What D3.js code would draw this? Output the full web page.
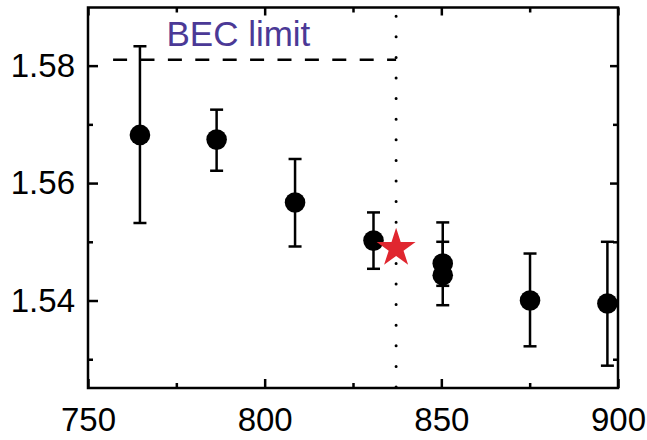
<!DOCTYPE html>
<html>
<head>
<meta charset="utf-8">
<script src="https://cdn.jsdelivr.net/npm/d3@7"></script>
<style>
  body { margin: 0; background: #fff; }
  svg text { font-family: "Liberation Sans", Arial, sans-serif; }
</style>
</head>
<body>
<div id="chart"></div>
<script>
// measured points (x, y, error bar low/high)
const xValues  = [764.7, 786.4, 808.6, 830.8, 850.4, 850.4, 875.1, 897.0];
const yValues  = [1.5682, 1.5674, 1.5567, 1.5502, 1.5463, 1.5443, 1.5400, 1.5395];
const errLow   = [1.5532, 1.5621, 1.5492, 1.5454, 1.5425, 1.5392, 1.5322, 1.5289];
const errHigh  = [1.5833, 1.5725, 1.5641, 1.5550, 1.5533, 1.5500, 1.5480, 1.5500];

// red star marker
const starPoint = [837.2, 1.5489];

// BEC limit reference lines
const becValue = 1.5810;
const becX = 837.2;
const becLabel = "BEC limit";

const xMajor = [750, 800, 850, 900];
const xMinor = [775, 825, 875];
const yMajor = [1.54, 1.56, 1.58];
const yMinor = [1.53, 1.55, 1.57];

const margin = {top: 7.5, right: 29, bottom: 52, left: 88};
const W = 647, H = 440;
const width = W - margin.left - margin.right;
const height = H - margin.top - margin.bottom;

const svg = d3.select("#chart").append("svg")
  .attr("width", W).attr("height", H)
  .append("g")
  .attr("transform", "translate(" + margin.left + "," + margin.top + ")");

const x = d3.scaleLinear().domain([750, 900]).range([0, width]);
const y = d3.scaleLinear().domain([1.5251, 1.5899]).range([height, 0]);

const fmt = d3.format(".2f");

// axes: major ticks with labels, minor ticks without
function styleAxis(g) {
  g.select(".domain").remove();
  g.selectAll(".tick line").attr("stroke", "#000").attr("stroke-width", 2.5);
  g.selectAll(".tick text").attr("fill", "#000").attr("font-size", 33);
}

svg.append("g").attr("transform", "translate(0," + height + ")")
  .call(d3.axisBottom(x).tickValues(xMajor).tickSize(-9).tickPadding(20).tickFormat(d3.format("d")))
  .call(styleAxis);
svg.append("g").attr("transform", "translate(0," + height + ")")
  .call(d3.axisBottom(x).tickValues(xMinor).tickSize(-5).tickFormat(""))
  .call(styleAxis);
svg.append("g")
  .call(d3.axisTop(x).tickValues(xMajor).tickSize(-8).tickFormat(""))
  .call(styleAxis);
svg.append("g")
  .call(d3.axisTop(x).tickValues(xMinor).tickSize(-5).tickFormat(""))
  .call(styleAxis);

svg.append("g")
  .call(d3.axisLeft(y).tickValues(yMajor).tickSize(-10).tickPadding(13).tickFormat(fmt))
  .call(styleAxis);
svg.append("g")
  .call(d3.axisLeft(y).tickValues(yMinor).tickSize(-5).tickFormat(""))
  .call(styleAxis);
svg.append("g").attr("transform", "translate(" + width + ",0)")
  .call(d3.axisRight(y).tickValues(yMajor).tickSize(-8).tickFormat(""))
  .call(styleAxis);
svg.append("g").attr("transform", "translate(" + width + ",0)")
  .call(d3.axisRight(y).tickValues(yMinor).tickSize(-5).tickFormat(""))
  .call(styleAxis);

// frame
svg.append("rect")
  .attr("x", 0).attr("y", 0)
  .attr("width", width).attr("height", height)
  .attr("fill", "none").attr("stroke", "#000").attr("stroke-width", 2.5);

// dotted vertical line
svg.append("line")
  .attr("x1", x(becX)).attr("x2", x(becX))
  .attr("y1", 0).attr("y2", height)
  .attr("stroke", "#000").attr("stroke-width", 3)
  .attr("stroke-linecap", "round")
  .attr("stroke-dasharray", "0,20.6")
  .attr("stroke-dashoffset", 11.9);

// dashed horizontal line
svg.append("line")
  .attr("x1", x(757.1)).attr("x2", x(becX))
  .attr("y1", y(becValue)).attr("y2", y(becValue))
  .attr("stroke", "#000").attr("stroke-width", 2.5)
  .attr("stroke-dasharray", "14,13.4");

svg.append("text")
  .attr("x", x(772.2)).attr("y", y(becValue) - 13.5)
  .attr("fill", "#4b3996")
  .attr("font-size", 35)
  .text(becLabel);

const data = xValues.map((d, i) => ({x: d, y: yValues[i], lo: errLow[i], hi: errHigh[i]}));

// error bars
const bars = svg.append("g").selectAll("g").data(data).enter().append("g");
bars.append("line")
  .attr("x1", d => x(d.x)).attr("x2", d => x(d.x))
  .attr("y1", d => y(d.lo)).attr("y2", d => y(d.hi))
  .attr("stroke", "#000").attr("stroke-width", 2.5);
bars.append("line")
  .attr("x1", d => x(d.x) - 6.5).attr("x2", d => x(d.x) + 6.5)
  .attr("y1", d => y(d.lo)).attr("y2", d => y(d.lo))
  .attr("stroke", "#000").attr("stroke-width", 2.5);
bars.append("line")
  .attr("x1", d => x(d.x) - 6.5).attr("x2", d => x(d.x) + 6.5)
  .attr("y1", d => y(d.hi)).attr("y2", d => y(d.hi))
  .attr("stroke", "#000").attr("stroke-width", 2.5);

// points
svg.append("g").selectAll("circle").data(data).enter().append("circle")
  .attr("cx", d => x(d.x)).attr("cy", d => y(d.y))
  .attr("r", 10.3).attr("fill", "#000");

// star
const star = d3.symbol().type(d3.symbolStar).size(470);
svg.append("path")
  .attr("d", star())
  .attr("transform", "translate(" + x(starPoint[0]) + "," + y(starPoint[1]) + ")")
  .attr("fill", "#e0262f");
</script>
</body>
</html>
